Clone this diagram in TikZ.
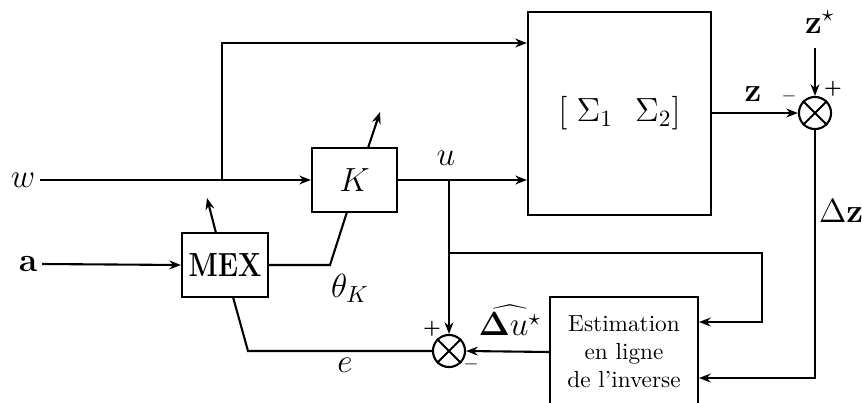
\documentclass[tikz,border=0pt]{standalone}
\usetikzlibrary{arrows.meta}
\begin{document}
\begin{tikzpicture}[x=0.43pt,y=-0.43pt,
  line width=0.9pt,
  arr/.style={-{Stealth[length=5pt,width=3.8pt]}},
  blk/.style={draw,line width=0.9pt,inner sep=0pt,align=center},
  sumnode/.style={draw,circle,line width=0.9pt,minimum size=13.8pt,inner sep=0pt},
  lbl/.style={inner sep=0pt,font=\Large},
  sgn/.style={inner sep=0pt,font=\footnotesize\bfseries}]
\clip (0,0) rectangle (862,403);
% blocks
\node[blk,minimum width=36.6pt,minimum height=27.5pt,font=\Large] (K) at (354.5,180) {$K$};
\node[blk,minimum width=37pt,minimum height=27.5pt,font=\Large\bfseries] (MEX) at (225,265) {\scalebox{0.82}[1]{MEX}};
\node[blk,minimum width=78.7pt,minimum height=87.3pt,font=\Large] (S) at (619.5,113.5) {$[\;\Sigma_1\ \ \Sigma_2]$};
\node[blk,minimum width=63.6pt,minimum height=47.3pt] (E) at (624,352) {Estimation\\en ligne\\de l'inverse};
% summing junctions
\node[sumnode] (s1) at (815,113) {};
\draw (s1.north east) -- (s1.south west) (s1.north west) -- (s1.south east);
\node[sumnode] (s2) at (449,351) {};
\draw (s2.north east) -- (s2.south west) (s2.north west) -- (s2.south east);
% labels
\node[lbl] (w) at (23,180) {$w$};
\node[lbl] (a) at (28,264) {$\mathbf{a}$};
\node[lbl] (u) at (446,158) {$u$};
\node[lbl] (th) at (350,288) {$\theta_K$};
\node[lbl] (e) at (345,365) {$e$};
\node[lbl] (z) at (753,94) {$\mathbf{z}$};
\node[lbl] (zs) at (820,22) {$\mathbf{z}^\star$};
\node[lbl,anchor=west] (dz) at (818,211) {$\Delta\mathbf{z}$};
\node[lbl] (du) at (510,320) {$\widehat{\mathbf{\Delta} u^\star}$};
\node[sgn] at (432,329) {+};
\node[sgn] at (471,367) {--};
\node[sgn] at (789,99) {--};
\node[sgn] at (833,89) {+};
% coordinates
\coordinate (j1) at (222,180);
\coordinate (j2) at (449,180);
\coordinate (j3) at (449,253);
\coordinate (zin) at (815,48);
% connectors
\draw[arr] (w.east) ++(4,0) -- (K.west);
\draw[arr] (j1) -- (222,43) -- (S.west |- 0,43);
\draw[arr] (a.east) ++(4,0) -- (MEX.west);
\draw[arr] (K.east) -- (S.west |- K.east);
\draw[arr] (j2) -- (s2.north);
\draw[arr] (j3) -- (762,253) -- (762,322) -- (E.east |- 0,322);
\draw[arr] (S.east |- s1.west) -- (s1.west);
\draw[arr] (zin) -- (s1.north);
\draw[arr] (s1.south) -- (815,378) -- (E.east |- 0,378);
\draw[arr] (E.west) -- (s2.east);
\draw (s2.west) -- (248,351) -- (233,297);
\draw (MEX.east) -- (330,265) -- (347,212);
\draw[arr] (368,148) -- (380,112);
\draw[arr] (216,233) -- (207,198);
\end{tikzpicture}
\end{document}
